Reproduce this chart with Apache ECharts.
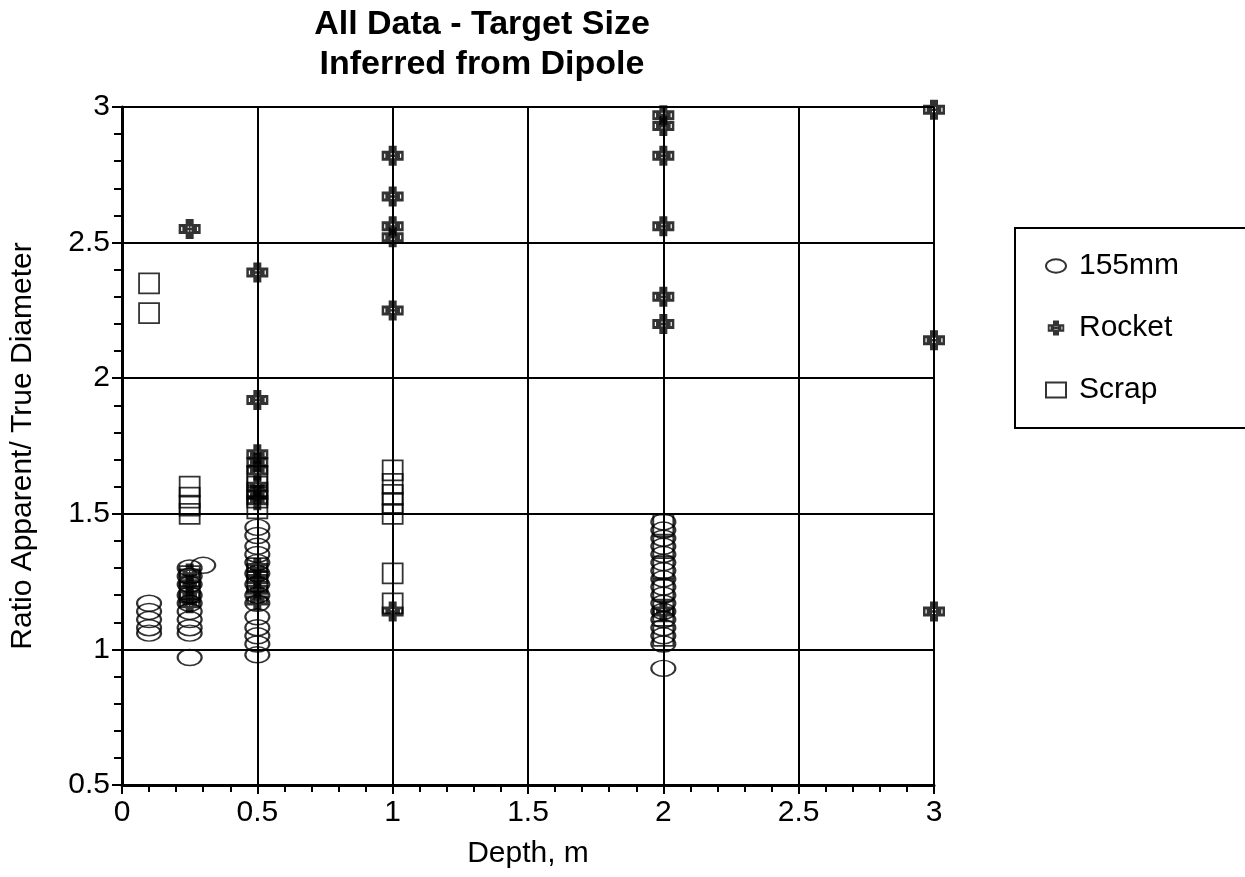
<!DOCTYPE html>
<html>
<head>
<meta charset="utf-8">
<title>All Data - Target Size Inferred from Dipole</title>
<script src="https://cdn.jsdelivr.net/npm/echarts@6/dist/echarts.min.js"></script>
<style>
  html, body { margin: 0; padding: 0; background: #fff; }
  #chart { width: 1245px; height: 877px; }
</style>
</head>
<body>
<div id="chart"></div>
<script>
// Depth (m) and ratio of apparent to true diameter for each target type
const shell155 = [
  [0.1, 1.17], [0.1, 1.14], [0.1, 1.11], [0.1, 1.08], [0.1, 1.06],
  [0.25, 1.30], [0.25, 1.27], [0.25, 1.24], [0.25, 1.20], [0.25, 1.17],
  [0.25, 1.14], [0.25, 1.11], [0.25, 1.08], [0.25, 1.06], [0.25, 0.97],
  [0.3, 1.31],
  [0.5, 1.45], [0.5, 1.42], [0.5, 1.38], [0.5, 1.35], [0.5, 1.32],
  [0.5, 1.28], [0.5, 1.24], [0.5, 1.20], [0.5, 1.17], [0.5, 1.12],
  [0.5, 1.08], [0.5, 1.05], [0.5, 1.02], [0.5, 0.98],
  [2, 1.47], [2, 1.44], [2, 1.41], [2, 1.38], [2, 1.35], [2, 1.32],
  [2, 1.29], [2, 1.26], [2, 1.23], [2, 1.20], [2, 1.17], [2, 1.14],
  [2, 1.11], [2, 1.08], [2, 1.05], [2, 1.02], [2, 0.93]
];
const rocket = [
  [0.25, 2.55], [0.25, 1.28], [0.25, 1.24], [0.25, 1.20], [0.25, 1.17],
  [0.5, 2.39], [0.5, 1.92], [0.5, 1.72], [0.5, 1.69], [0.5, 1.66],
  [0.5, 1.60], [0.5, 1.57], [0.5, 1.55], [0.5, 1.30], [0.5, 1.26],
  [0.5, 1.22], [0.5, 1.18],
  [1, 2.82], [1, 2.67], [1, 2.56], [1, 2.52], [1, 2.25], [1, 1.14],
  [2, 2.97], [2, 2.93], [2, 2.82], [2, 2.56], [2, 2.30], [2, 2.20], [2, 1.14],
  [3, 2.99], [3, 2.14], [3, 1.14]
];
const scrap = [
  [0.1, 2.35], [0.1, 2.24],
  [0.25, 1.60], [0.25, 1.56], [0.25, 1.53], [0.25, 1.50], [0.25, 1.27], [0.25, 1.21],
  [0.5, 1.64], [0.5, 1.60], [0.5, 1.56], [0.5, 1.52], [0.5, 1.30], [0.5, 1.25],
  [1, 1.66], [1, 1.61], [1, 1.57], [1, 1.54], [1, 1.50], [1, 1.28], [1, 1.17],
  [2, 1.46], [2, 1.38], [2, 1.30], [2, 1.22], [2, 1.14], [2, 1.05]
];
const seriesNames = ['155mm', 'Rocket', 'Scrap'];
const xTicks = { min: 0, max: 3, step: 0.5 };
const yTicks = { min: 0.5, max: 3, step: 0.5 };

// Marker outlines
const ellipseSymbol = 'path://M0,8 A12,8 0 1,1 24,8 A12,8 0 1,1 0,8 Z';
// Solid black cross; the small inner paths are wound the other way so they show as white specks
const rocketSymbol = 'path://M7,0 L15,0 L15,5 L22,5 L22,15 L15,15 L15,20 L7,20 L7,15 L0,15 L0,5 L7,5 Z' +
  ' M2.5,8 L2.5,12 L3.7,12 L3.7,8 Z M18.3,8 L18.3,12 L19.5,12 L19.5,8 Z' +
  ' M9,7.5 L9,8.8 L10.3,8.8 L10.3,7.5 Z M11.7,7.5 L11.7,8.8 L13,8.8 L13,7.5 Z' +
  ' M9,11.2 L9,12.5 L10.3,12.5 L10.3,11.2 Z M11.7,11.2 L11.7,12.5 L13,12.5 L13,11.2 Z';

const FONT = '"Liberation Sans", Arial, sans-serif';
const chart = echarts.init(document.getElementById('chart'), null, { renderer: 'canvas' });

chart.setOption({
  backgroundColor: '#ffffff',
  animation: false,
  title: {
    text: 'All Data - Target Size\nInferred from Dipole',
    left: 477,
    top: 0,
    textAlign: 'center',
    textStyle: {
      fontFamily: FONT, fontSize: 34, fontWeight: 'bold', color: '#000', lineHeight: 40
    }
  },
  grid: { left: 122, top: 107, right: 311, bottom: 92, containLabel: false },
  legend: {
    data: seriesNames,
    orient: 'vertical',
    left: 1040,
    top: 246,
    itemGap: 32,
    itemWidth: 20,
    itemHeight: 15,
    textStyle: { fontFamily: FONT, fontSize: 30, color: '#000', padding: [0, 0, 0, 8] }
  },
  graphic: [{
    type: 'rect',
    shape: { x: 1015, y: 228, width: 250, height: 200 },
    style: { fill: 'none', stroke: '#000', lineWidth: 2 },
    silent: true
  }],
  xAxis: {
    type: 'value',
    min: xTicks.min, max: xTicks.max, interval: xTicks.step,
    name: 'Depth, m',
    nameLocation: 'middle',
    nameGap: 54,
    nameTextStyle: { fontFamily: FONT, fontSize: 30, color: '#000' },
    axisLine: { show: true, onZero: false, lineStyle: { color: '#000', width: 3 } },
    axisTick: { show: true, inside: false, length: 9, lineStyle: { color: '#000', width: 2 } },
    minorTick: { show: true, splitNumber: 5, length: 7, lineStyle: { color: '#000', width: 2 } },
    axisLabel: {
      fontFamily: FONT, fontSize: 30, color: '#000', margin: 13,
      formatter: v => String(+v.toFixed(1))
    },
    splitLine: { show: true, lineStyle: { color: '#000', width: 2 } }
  },
  yAxis: {
    type: 'value',
    min: yTicks.min, max: yTicks.max, interval: yTicks.step,
    name: 'Ratio Apparent/ True Diameter',
    nameLocation: 'middle',
    nameGap: 84,
    nameTextStyle: { fontFamily: FONT, fontSize: 30, color: '#000' },
    axisLine: { show: true, onZero: false, lineStyle: { color: '#000', width: 3 } },
    axisTick: { show: true, inside: false, length: 10, lineStyle: { color: '#000', width: 2 } },
    minorTick: { show: true, splitNumber: 5, length: 8, lineStyle: { color: '#000', width: 2 } },
    axisLabel: {
      fontFamily: FONT, fontSize: 30, color: '#000', margin: 12,
      formatter: v => String(+v.toFixed(1))
    },
    splitLine: { show: true, lineStyle: { color: '#000', width: 2 } }
  },
  series: [
    {
      name: seriesNames[0],
      type: 'scatter',
      data: shell155,
      symbol: ellipseSymbol,
      symbolSize: [24, 16],
      itemStyle: { color: 'rgba(255,255,255,0)', borderColor: '#000', borderWidth: 1.8 },
      z: 3
    },
    {
      name: seriesNames[1],
      type: 'scatter',
      data: rocket,
      symbol: rocketSymbol,
      symbolSize: [22, 20],
      itemStyle: { color: '#000' },
      z: 4
    },
    {
      name: seriesNames[2],
      type: 'scatter',
      data: scrap,
      symbol: 'rect',
      symbolSize: [20, 20],
      itemStyle: { color: 'rgba(255,255,255,0)', borderColor: '#000', borderWidth: 1.8 },
      z: 5
    }
  ]
});
</script>
</body>
</html>
